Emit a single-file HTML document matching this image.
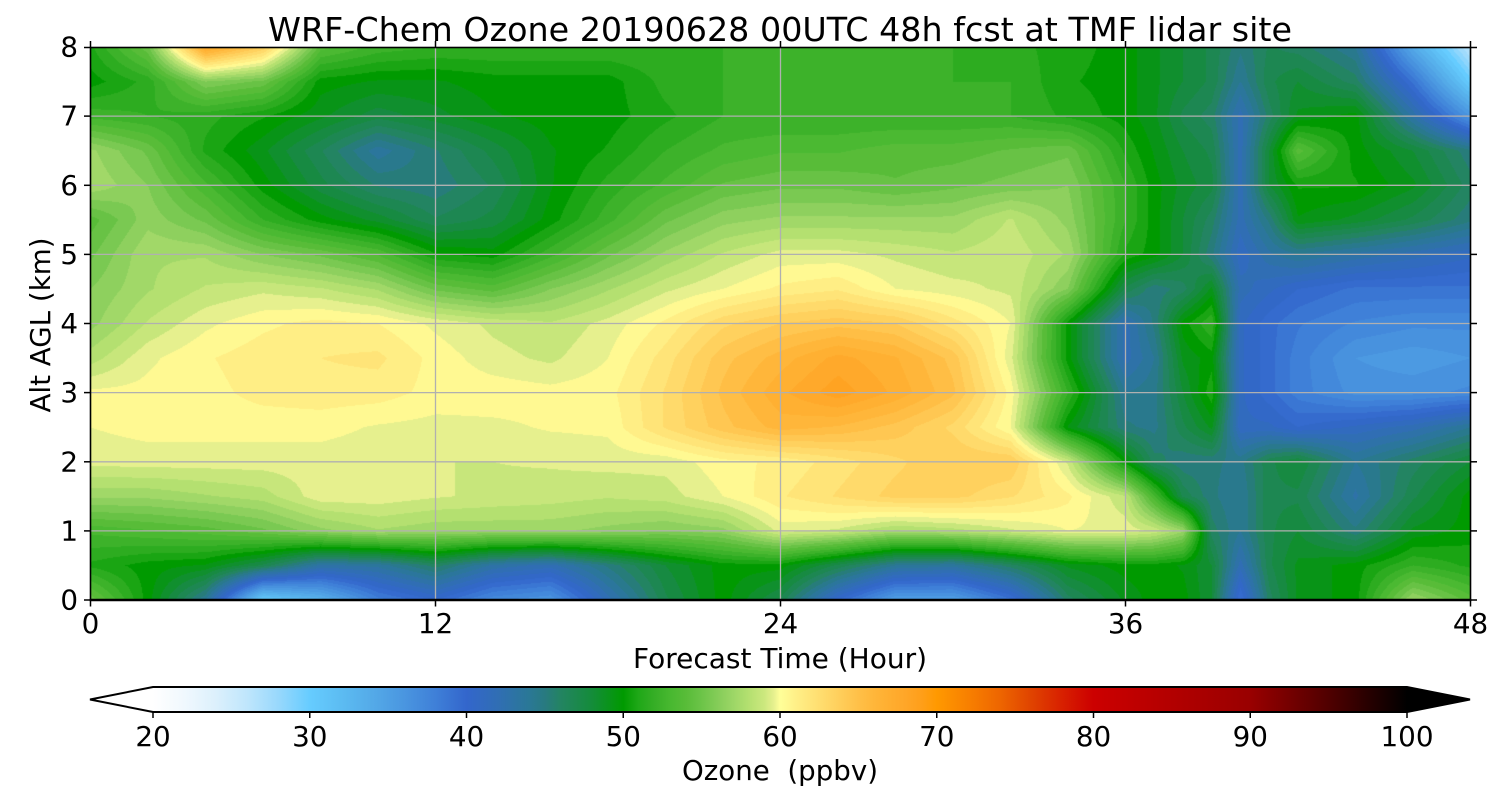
<!DOCTYPE html>
<html><head><meta charset="utf-8">
<style>
html,body{margin:0;padding:0;background:#fff;}
#wrap{position:relative;width:1500px;height:800px;overflow:hidden;background:#fff;}
canvas{position:absolute;left:90px;top:47px;background:#8fd05c;}
svg{position:absolute;left:0;top:0;}
text{font-family:"DejaVu Sans","Liberation Sans",sans-serif;fill:#000;}
</style></head><body>
<div id="wrap">
<canvas id="c" width="1381" height="553"></canvas>
<svg width="1500" height="800" viewBox="0 0 1500 800">
<defs>
<linearGradient id="cb" gradientUnits="userSpaceOnUse" x1="153" y1="0" x2="1407" y2="0">
<stop offset="0" stop-color="#ffffff"/><stop offset="0.025" stop-color="#f0f8fe"/><stop offset="0.05" stop-color="#dcf0fc"/>
<stop offset="0.075" stop-color="#bfe6fc"/><stop offset="0.1" stop-color="#98d8fc"/><stop offset="0.125" stop-color="#66ccff"/>
<stop offset="0.15" stop-color="#5cbcf2"/><stop offset="0.175" stop-color="#54aae8"/><stop offset="0.2" stop-color="#4a96e0"/>
<stop offset="0.225" stop-color="#3f80d8"/><stop offset="0.25" stop-color="#3366cc"/><stop offset="0.275" stop-color="#306eb4"/>
<stop offset="0.3" stop-color="#2a7896"/><stop offset="0.3125" stop-color="#287a80"/><stop offset="0.325" stop-color="#238462"/>
<stop offset="0.35" stop-color="#148c3a"/><stop offset="0.375" stop-color="#009a00"/><stop offset="0.3875" stop-color="#20a818"/>
<stop offset="0.4" stop-color="#36ae26"/><stop offset="0.4125" stop-color="#48b830"/><stop offset="0.425" stop-color="#58bc38"/>
<stop offset="0.4375" stop-color="#6cc448"/><stop offset="0.45" stop-color="#84cc58"/><stop offset="0.4625" stop-color="#9cd666"/>
<stop offset="0.475" stop-color="#b4e070"/><stop offset="0.4875" stop-color="#cce87e"/><stop offset="0.495" stop-color="#e6f08e"/>
<stop offset="0.5" stop-color="#ffff99"/><stop offset="0.5125" stop-color="#fff088"/><stop offset="0.525" stop-color="#ffe478"/>
<stop offset="0.5375" stop-color="#ffd868"/><stop offset="0.55" stop-color="#ffcc58"/><stop offset="0.5625" stop-color="#ffc048"/>
<stop offset="0.575" stop-color="#ffb63a"/><stop offset="0.5875" stop-color="#ffae30"/><stop offset="0.6" stop-color="#ffa628"/>
<stop offset="0.6125" stop-color="#ff9f1a"/><stop offset="0.625" stop-color="#ff9900"/><stop offset="0.65" stop-color="#f88000"/>
<stop offset="0.675" stop-color="#ee6600"/><stop offset="0.7" stop-color="#e04400"/><stop offset="0.725" stop-color="#d82000"/>
<stop offset="0.75" stop-color="#cc0000"/><stop offset="0.875" stop-color="#990000"/><stop offset="0.9375" stop-color="#500000"/>
<stop offset="1" stop-color="#000000"/>
</linearGradient>
</defs>

<!-- grid -->
<g stroke="#b0b0b0" stroke-width="1.3" fill="none">
<line x1="435.5" y1="47.5" x2="435.5" y2="600"/>
<line x1="780.5" y1="47.5" x2="780.5" y2="600"/>
<line x1="1125.5" y1="47.5" x2="1125.5" y2="600"/>
<line x1="90.5" y1="530.9" x2="1470.5" y2="530.9"/>
<line x1="90.5" y1="461.8" x2="1470.5" y2="461.8"/>
<line x1="90.5" y1="392.6" x2="1470.5" y2="392.6"/>
<line x1="90.5" y1="323.5" x2="1470.5" y2="323.5"/>
<line x1="90.5" y1="254.4" x2="1470.5" y2="254.4"/>
<line x1="90.5" y1="185.3" x2="1470.5" y2="185.3"/>
<line x1="90.5" y1="116.1" x2="1470.5" y2="116.1"/>
</g>

<!-- spines -->
<rect x="90.5" y="47.5" width="1380" height="552.5" fill="none" stroke="#000" stroke-width="1.6"/>
<line x1="89.7" y1="600" x2="1471.3" y2="600" stroke="#000" stroke-width="2.6"/>

<!-- ticks -->
<g stroke="#000" stroke-width="1.5">
<line x1="84" y1="600" x2="90.5" y2="600"/><line x1="84" y1="530.9" x2="90.5" y2="530.9"/>
<line x1="84" y1="461.8" x2="90.5" y2="461.8"/><line x1="84" y1="392.6" x2="90.5" y2="392.6"/>
<line x1="84" y1="323.5" x2="90.5" y2="323.5"/><line x1="84" y1="254.4" x2="90.5" y2="254.4"/>
<line x1="84" y1="185.3" x2="90.5" y2="185.3"/><line x1="84" y1="116.1" x2="90.5" y2="116.1"/>
<line x1="84" y1="47.5" x2="90.5" y2="47.5"/>
<line x1="1470.5" y1="600" x2="1477" y2="600"/><line x1="1470.5" y1="530.9" x2="1477" y2="530.9"/>
<line x1="1470.5" y1="461.8" x2="1477" y2="461.8"/><line x1="1470.5" y1="392.6" x2="1477" y2="392.6"/>
<line x1="1470.5" y1="323.5" x2="1477" y2="323.5"/><line x1="1470.5" y1="254.4" x2="1477" y2="254.4"/>
<line x1="1470.5" y1="185.3" x2="1477" y2="185.3"/><line x1="1470.5" y1="116.1" x2="1477" y2="116.1"/>
<line x1="1470.5" y1="47.5" x2="1477" y2="47.5"/>
<line x1="90.5" y1="600" x2="90.5" y2="606.5"/><line x1="435.5" y1="600" x2="435.5" y2="606.5"/>
<line x1="780.5" y1="600" x2="780.5" y2="606.5"/><line x1="1125.5" y1="600" x2="1125.5" y2="606.5"/>
<line x1="1470.5" y1="600" x2="1470.5" y2="606.5"/>
<line x1="90.5" y1="41" x2="90.5" y2="47.5"/><line x1="435.5" y1="41" x2="435.5" y2="47.5"/>
<line x1="780.5" y1="41" x2="780.5" y2="47.5"/><line x1="1125.5" y1="41" x2="1125.5" y2="47.5"/>
<line x1="1470.5" y1="41" x2="1470.5" y2="47.5"/>
</g>

<!-- title -->
<text x="780" y="41" font-size="33.3" text-anchor="middle" textLength="1024" lengthAdjust="spacingAndGlyphs">WRF-Chem Ozone 20190628 00UTC 48h fcst at TMF lidar site</text>

<!-- y tick labels -->
<g font-size="27.8" text-anchor="end">
<text x="78" y="609.5">0</text><text x="78" y="540.4">1</text><text x="78" y="471.3">2</text>
<text x="78" y="402.1">3</text><text x="78" y="333">4</text><text x="78" y="263.9">5</text>
<text x="78" y="194.8">6</text><text x="78" y="125.6">7</text><text x="78" y="56.5">8</text>
</g>
<!-- x tick labels -->
<g font-size="27.8" text-anchor="middle">
<text x="90.5" y="633">0</text><text x="435.5" y="633">12</text><text x="780.5" y="633">24</text>
<text x="1125.5" y="633">36</text><text x="1470.5" y="633">48</text>
</g>
<text x="780" y="668" font-size="27.8" text-anchor="middle" textLength="294" lengthAdjust="spacingAndGlyphs">Forecast Time (Hour)</text>
<text transform="translate(50,325) rotate(-90)" font-size="27.8" text-anchor="middle" textLength="175" lengthAdjust="spacingAndGlyphs">Alt AGL (km)</text>

<!-- colorbar -->
<rect x="153" y="687" width="1254" height="25" fill="url(#cb)"/>
<polygon points="153,687 90,699.5 153,712" fill="#ffffff"/>
<polygon points="1407,687 1470,699.5 1407,712" fill="#000000"/>
<polygon points="153,687 1407,687 1470,699.5 1407,712 153,712 90,699.5" fill="none" stroke="#000" stroke-width="2"/>
<g stroke="#000" stroke-width="1.5">
<line x1="153" y1="712" x2="153" y2="718"/><line x1="309.75" y1="712" x2="309.75" y2="718"/>
<line x1="466.5" y1="712" x2="466.5" y2="718"/><line x1="623.25" y1="712" x2="623.25" y2="718"/>
<line x1="780" y1="712" x2="780" y2="718"/><line x1="936.75" y1="712" x2="936.75" y2="718"/>
<line x1="1093.5" y1="712" x2="1093.5" y2="718"/><line x1="1250.25" y1="712" x2="1250.25" y2="718"/>
<line x1="1407" y1="712" x2="1407" y2="718"/>
</g>
<g font-size="27.8" text-anchor="middle">
<text x="153" y="746">20</text><text x="309.75" y="746">30</text><text x="466.5" y="746">40</text>
<text x="623.25" y="746">50</text><text x="780" y="746">60</text><text x="936.75" y="746">70</text>
<text x="1093.5" y="746">80</text><text x="1250.25" y="746">90</text><text x="1407" y="746">100</text>
</g>
<text x="780" y="780" font-size="27.8" text-anchor="middle" textLength="196" lengthAdjust="spacingAndGlyphs" xml:space="preserve">Ozone  (ppbv)</text>
</svg>
</div>
<script>
(function(){
var X=[0,2,4,6,8,10,12,14,16,18,20,22,24,26,28,30,32,34,36,37,38,39,40,41,42,44,46,48];
var D=[
[51,55,68,64,54,52.5,52,52,52,52,52,52,52,52,52,52,51.5,50.8,50,49,48,47,45,46.5,46,44,34,26],
[50,51.5,56,55,50,49.5,49.5,50,50,50,51.5,52,52,52,52,52,52,50.5,50,49,48,47,44,47,48,46,39,30],
[52.5,52,51.5,50.5,49,47.5,48.5,49.5,50,50,51,52,52,52,52,52,52,51,50,49,47,46,42,46,49,50,43,36],
[57,55,51,49,46.5,43.5,45.5,47.5,49.5,50.5,52,53,53.5,53.5,54,54,54.5,55,51,49.5,48,47,42,48,54,50,48,45],
[57.5,56,53,50,47.5,45.5,45,46.5,49.5,51.5,53,54.5,55,55,54.5,55,55.5,56,52,50,48.5,47.5,42,48,50.5,50.5,49,46],
[54,56.5,55,52,50,48.5,46.5,47.5,50,52.5,55,56.5,57,57,57,57,58.5,56.5,52,50,48,46,42,45,49.5,48.5,47,45],
[55,57.5,57.5,56,55,53.5,50.5,50,52.5,55,57,58.5,59.5,59.5,59,58.5,59,57.5,51,50,48,45,41,43,44,43,42,41],
[56,57.5,58.5,59,58.5,57.5,55,54,56,57.5,59,60,61,61.5,60,59.5,59,56,47,45,46,49,42,41,40,39,39,39],
[56.5,58.5,59.8,60.6,61.1,60.8,59.8,59,58.5,59.5,61,63,64,64.5,64,62,60,50,42,45,50,52,41,39.5,38.5,37.5,37,37],
[58,59.8,60.7,61.3,61.6,61.8,60.5,59.5,59,60,62,64.5,66,67.5,66.5,64.5,59.5,50,42,44,49,50,41,39.5,38,36,35.5,36],
[60.2,60.3,60.5,61.1,61.3,61.2,60.5,60.5,60.3,60.5,62.5,65,67,68.5,67,65,60.5,52,44,44.5,48,51,41,39.5,38,36.5,36.5,37],
[60,60.3,60.3,60.3,60.3,59.9,59.7,59.8,60.1,60.2,62.5,64.5,66,65.5,64.5,63,60,49.5,45,44.5,47,49,41,41,40,41,42,44],
[59.5,59.6,59.6,59.6,59.6,59.5,59.2,59.2,59.3,59.5,59.5,60.5,61,62,63,64,64,59,50,46,45,45,44.5,47,48,44,46,48],
[57,57,57.5,58,59.7,59.7,59.3,59,58.8,58.5,58.8,60,61.5,62.5,63.5,63.5,62.5,61,58.5,53,47,45,44,47,47,43,47,50],
[53,53.5,54,55,56.5,57.5,57,57,57,56.5,56,56.5,59.5,59,57.5,58,59,60,59.7,59,57,46,44,47,48,45,49,50],
[51,50,49.5,47,43,43.5,46,43,42,45,48,50,50,47,44,43.5,46,49,50,50,49.5,48,42,47,49,50,52,51],
[55,50,44,30,33,38,40,37,36,42,47,50,47,40,35,35,39,46,49,50,50,48,39,46,49,50,57,54]
];
var S=[[20,'ffffff'],[22,'f0f8fe'],[24,'dcf0fc'],[26,'bfe6fc'],[28,'98d8fc'],[30,'66ccff'],[32,'5cbcf2'],[34,'54aae8'],
[36,'4a96e0'],[38,'3f80d8'],[40,'3366cc'],[42,'306eb4'],[44,'2a7896'],[45,'287a80'],[46,'238462'],[48,'148c3a'],
[50,'009a00'],[51,'20a818'],[52,'36ae26'],[53,'48b830'],[54,'58bc38'],[55,'6cc448'],[56,'84cc58'],[57,'9cd666'],
[58,'b4e070'],[59,'cce87e'],[59.6,'e6f08e'],[60,'ffff99'],[61,'fff088'],[62,'ffe478'],[63,'ffd868'],[64,'ffcc58'],
[65,'ffc048'],[66,'ffb63a'],[67,'ffae30'],[68,'ffa628'],[69,'ff9f1a'],[70,'ff9900'],[72,'f88000'],[74,'ee6600'],
[76,'e04400'],[78,'d82000'],[80,'cc0000'],[90,'990000'],[95,'500000'],[100,'000000']];
var SV=[],SC=[];
for(var s=0;s<S.length;s++){SV.push(S[s][0]);var h=S[s][1];SC.push([parseInt(h.substr(0,2),16),parseInt(h.substr(2,2),16),parseInt(h.substr(4,2),16)]);}
function col(v){
 if(v<=SV[0])return SC[0];
 if(v>=SV[SV.length-1])return SC[SC.length-1];
 for(var i=0;i<SV.length-1;i++){
  if(v<=SV[i+1]){var t=(v-SV[i])/(SV[i+1]-SV[i]);var a=SC[i],b=SC[i+1];
   return [Math.round(a[0]+(b[0]-a[0])*t),Math.round(a[1]+(b[1]-a[1])*t),Math.round(a[2]+(b[2]-a[2])*t)];}
 }
 return SC[SC.length-1];
}
var LUT=[];for(var k=0;k<100;k++)LUT.push(col(20+0.8*(k+0.5)));
var cv=document.getElementById('c');var W=cv.width,H=cv.height;
var ctx=cv.getContext('2d');var im=ctx.createImageData(W,H);var d=im.data;
var xi=new Int32Array(W),xt=new Float32Array(W);
for(var px=0;px<W;px++){
 var hr=(px)/28.75;if(hr<0)hr=0;if(hr>48)hr=48;
 var i=0;while(i<X.length-2&&hr>X[i+1])i++;
 xi[px]=i;xt[px]=(hr-X[i])/(X[i+1]-X[i]);
}
for(var py=0;py<H;py++){
 var km=(600-(47+py+0.5))/69.125;if(km<0)km=0;if(km>8)km=8;
 var r=(8-km)/0.5;var j=Math.floor(r);if(j>15)j=15;if(j<0)j=0;var u=r-j;
 var R0=D[j],R1=D[j+1];
 for(var px2=0;px2<W;px2++){
  var ii=xi[px2],t=xt[px2];
  var v=(R0[ii]*(1-t)+R0[ii+1]*t)*(1-u)+(R1[ii]*(1-t)+R1[ii+1]*t)*u;
  var kk=Math.floor((v-20)/0.8);var c;
  if(kk<0)c=[255,255,255];else if(kk>99)c=[0,0,0];else c=LUT[kk];
  var o=(py*W+px2)*4;d[o]=c[0];d[o+1]=c[1];d[o+2]=c[2];d[o+3]=255;
 }
}
ctx.putImageData(im,0,0);
})();
</script>
</body></html>
